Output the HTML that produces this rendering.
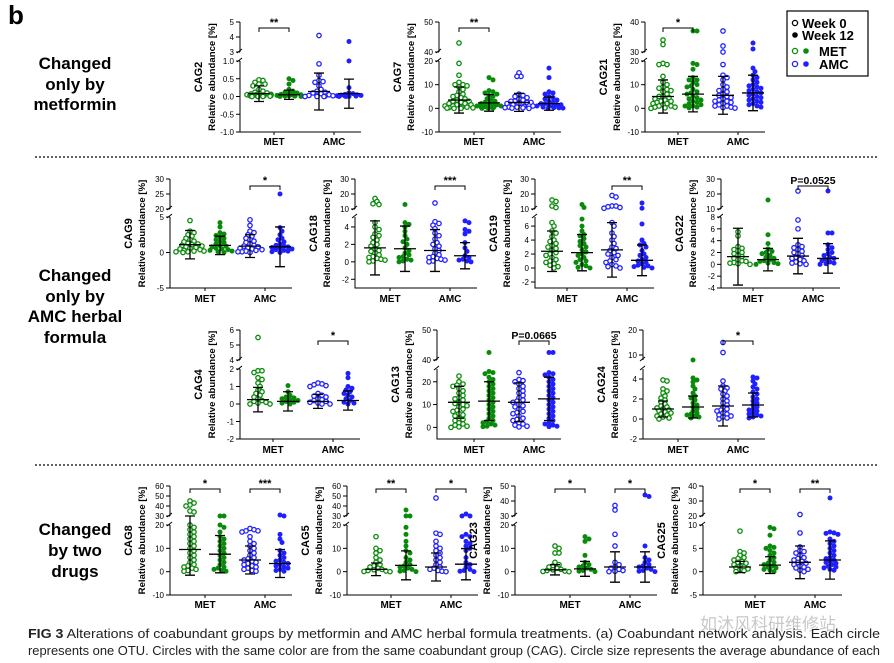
<!DOCTYPE html>
<html><head><meta charset="utf-8">
<style>
html,body{margin:0;padding:0;background:#fff;}
svg{display:block;font-family:"Liberation Sans","Noto Sans CJK SC",sans-serif;}
</style></head>
<body>
<svg id="fig" width="894" height="663" viewBox="0 0 894 663" xmlns="http://www.w3.org/2000/svg">
<rect width="894" height="663" fill="#fff"/>
<text x="8" y="24" font-size="26" font-weight="bold">b</text>
<g font-size="17" font-weight="bold" text-anchor="middle">
<text x="75" y="69">Changed</text><text x="75" y="90">only by</text><text x="75" y="110">metformin</text></g>
<g font-size="17" font-weight="bold" text-anchor="middle">
<text x="75" y="281">Changed</text><text x="75" y="302">only by</text><text x="75" y="322">AMC herbal</text><text x="75" y="343">formula</text></g>
<g font-size="17" font-weight="bold" text-anchor="middle">
<text x="75" y="535">Changed</text><text x="75" y="556">by two</text><text x="75" y="577">drugs</text></g>
<line x1="35" y1="157" x2="878" y2="157" stroke="#000" stroke-width="1.3" stroke-dasharray="2,2"/>
<line x1="35" y1="465" x2="878" y2="465" stroke="#000" stroke-width="1.3" stroke-dasharray="2,2"/>
<g>
<rect x="787" y="11" width="81" height="65" fill="#fff" stroke="#000" stroke-width="1.2"/>
<circle cx="795" cy="23" r="2.6" fill="#fff" stroke="#000" stroke-width="1.3"/>
<text x="802" y="28" font-size="13" font-weight="bold">Week 0</text>
<circle cx="795" cy="35" r="2.8" fill="#000"/>
<text x="802" y="40" font-size="13" font-weight="bold">Week 12</text>
<circle cx="795" cy="51" r="2.6" fill="#fff" stroke="#0a8a0a" stroke-width="1.3"/>
<circle cx="806" cy="51" r="2.8" fill="#0a8a0a"/>
<text x="819" y="56" font-size="13" font-weight="bold">MET</text>
<circle cx="795" cy="64" r="2.6" fill="#fff" stroke="#2020ff" stroke-width="1.3"/>
<circle cx="806" cy="64" r="2.8" fill="#2020ff"/>
<text x="819" y="69" font-size="13" font-weight="bold">AMC</text>
</g>
<text x="700" y="630" font-size="17" fill="#c8c8c8">如沐风科研维修站</text>
<g font-size="12.5" fill="#222">
<text x="28" y="638" textLength="852" lengthAdjust="spacingAndGlyphs"><tspan font-weight="bold">FIG 3</tspan>  Alterations of coabundant groups by metformin and AMC herbal formula treatments. (a) Coabundant network analysis. Each circle</text>
<text x="28" y="655" textLength="852" lengthAdjust="spacingAndGlyphs">represents one OTU. Circles with the same color are from the same coabundant group (CAG). Circle size represents the average abundance of each</text>
</g>
<g id="plots"></g>
</svg>
<script>
// ---- data (groups: MET wk0, MET wk12, AMC wk0, AMC wk12) ----
const groupNames = ['met-week0','met-week12','amc-week0','amc-week12'];
const cag2Means=[0.08,0.05,0.14,0.08]; const cag2Sds=[0.22,0.13,0.52,0.41];
const cag2G1=[0.47,0.45,0.4,0.35,0.35,0.3,0.2,0.15,0.12,0.1,0.08,0.07,0.06,0.05,0.05,0.04,0.03,0.03,0.02,0.02,0.01,0.01,0,0,0];
const cag2G2=[0.5,0.45,0.35,0.2,0.15,0.12,0.1,0.08,0.06,0.05,0.04,0.03,0.02,0.02,0.01,0.01,0,0];
const cag2G3=[4.1,0.92,0.6,0.45,0.42,0.4,0.3,0.2,0.15,0.12,0.1,0.08,0.05,0.04,0.03,0.02,0.01,0,0,0];
const cag2G4=[3.7,1.0,0.25,0.1,0.08,0.06,0.05,0.04,0.03,0.02,0.01,0.01,0,0,0];
const cag7Means=[3.5,2.3,2.5,2.0]; const cag7Sds=[5.5,3.5,3.8,2.8];
const cag7G1=[43,19,14,11,10,10,9.5,9,8,7,6,5.5,5,4.5,4,3.5,3,3,2.5,2,2,1.5,1.5,1,1,0.8,0.5,0.5,0.3,0.2,0.1,0,0];
const cag7G2=[13,12,7.5,7,6.5,6,5.5,5,4,3.5,3,2.5,2,2,1.5,1.5,1,1,0.8,0.5,0.5,0.3,0.2,0.1,0];
const cag7G3=[15,13.5,13.5,6,5.5,5,4.5,4,3.5,3,3,2.5,2.5,2,2,1.5,1.5,1,1,0.8,0.5,0.5,0.3,0.2,0.1,0];
const cag7G4=[17,13,7,6.5,6,5,4.5,4,3.5,3,2.5,2,2,1.5,1.5,1,1,0.8,0.5,0.3,0.2,0.1,0];
const cag21Means=[5,6,5.5,6.5]; const cag21Sds=[7,7.5,8,7.5];
const cag21G1=[34,32.5,19,18.5,18.5,13.5,11,10,9,8.5,8,7.5,7,6,5,5,4.5,4,3.5,3,3,2.5,2,2,1.5,1,1,0.5,0.5,0.2,0];
const cag21G2=[37,37,19,18.5,16.5,13,12,12,11,10,9.5,9,8,7,6.5,6,5,4.5,4,3.5,3,2.5,2,1.5,1,1,0.5,0.2];
const cag21G3=[37,32,30,18.5,14,13,12,10,9,8,7.5,7,6,5.5,5,4.5,4,3.5,3,3,2.5,2,1.5,1,1,0.5,0.3,0.1];
const cag21G4=[33,31,17,15.5,14,13,12,11,10,9.5,9,8.5,8,7.5,7,6.5,6,5.5,5,4.5,4,3.5,3,2.5,2,1.5,1,0.5];
const cag9Means=[1.1,1.0,0.9,0.8]; const cag9Sds=[2.0,1.3,1.6,2.8];
const cag9G1=[4.5,3,2.8,2.5,2.3,2,1.8,1.6,1.5,1.3,1.2,1.1,1,0.9,0.8,0.7,0.6,0.5,0.4,0.3,0.2,0.2,0.1,0.1,0];
const cag9G2=[4.2,3.6,2.8,2.6,2.4,2.2,2,1.8,1.6,1.4,1.2,1,0.9,0.8,0.6,0.5,0.4,0.3,0.2,0.1,0];
const cag9G3=[4.6,3.8,3,2.8,2.5,2.3,2,1.8,1.6,1.4,1.2,1,0.9,0.8,0.7,0.6,0.5,0.4,0.3,0.2,0.1,0.1,0];
const cag9G4=[25,3.5,3,2.5,2,1.8,1.5,1.2,1,0.9,0.8,0.7,0.6,0.5,0.4,0.3,0.2,0.1,0];
const cag18Means=[1.6,1.5,1.3,0.7]; const cag18Sds=[3.1,2.6,2.4,1.5];
const cag18G1=[17,15,13,13.5,4.5,4,3.7,3.2,3,2.8,2.5,2.2,2,1.8,1.5,1.3,1.2,1,0.8,0.6,0.5,0.4,0.3,0.2,0.1,0];
const cag18G2=[13,4.5,4.3,4,3.5,3,2.6,2.3,2,1.6,1.3,1,0.8,0.6,0.5,0.3,0.2,0.1,0];
const cag18G3=[14,4.6,4.4,4.2,3.8,3.3,3,2.6,2.2,2,1.8,1.5,1.3,1,0.8,0.6,0.5,0.4,0.3,0.2,0.1,0];
const cag18G4=[4.7,4.5,3.7,3.5,3.2,2.2,1.6,1.2,0.7,0.5,0.3,0.2,0.1,0];
const cag19Means=[2.4,2.2,2.6,1.1]; const cag19Sds=[2.9,2.6,3.9,2.2];
const cag19G1=[16,15,12,11,6.5,6,5.3,5,4.5,4,3.8,3.5,3.2,3,2.8,2.5,2.2,2,1.8,1.5,1.2,1,0.8,0.6,0.4,0.2,0];
const cag19G2=[13,11,7,6,5.3,4.8,4.6,4.2,3.8,3.5,3.2,3,2.6,2.3,2,1.8,1.5,1.2,1,0.8,0.5,0.3,0.1,0];
const cag19G3=[19,18,12,12,11.5,11,10.5,6.5,6,5,4.5,4,3.5,3,2.8,2.5,2.2,2,1.8,1.5,1.2,1,0.8,0.5,0.3,0.2,0];
const cag19G4=[14,10.5,6.3,4,3.5,3.3,3,2.5,2,1.8,1.5,1.2,1,0.8,0.6,0.4,0.3,0.2,0.1,0];
const cag22Means=[1.3,0.8,1.4,1.0]; const cag22Sds=[4.8,1.9,3.0,2.5];
const cag22G1=[5.5,4.8,3,2.7,2.5,2.3,2,1.8,1.5,1.3,1,0.8,0.6,0.5,0.3,0.2,0.1,0];
const cag22G2=[16,5,3.5,2.6,2.2,2,1.8,1.5,1.2,1,0.8,0.6,0.5,0.3,0.2,0.1,0];
const cag22G3=[22,7.5,6,3.3,3,2.8,2.5,2.2,2,1.8,1.5,1.2,1,0.8,0.6,0.4,0.2,0.1,0];
const cag22G4=[22,5.3,5.3,3.3,2.8,2.5,2,1.8,1.5,1.2,1,0.8,0.6,0.4,0.2,0.1,0];
const cag4Means=[0.25,0.15,0.15,0.2]; const cag4Sds=[0.7,0.55,0.4,0.55];
const cag4G1=[5.5,1.9,1.9,1.8,1.5,1.4,1.2,1,0.8,0.7,0.6,0.5,0.4,0.3,0.2,0.15,0.1,0.05,0,0];
const cag4G2=[1.05,0.7,0.5,0.4,0.35,0.3,0.25,0.2,0.15,0.1,0.05,0];
const cag4G3=[1.2,1.15,1.1,1.05,1,0.6,0.5,0.45,0.4,0.3,0.25,0.2,0.15,0.1,0.05,0,0];
const cag4G4=[1.75,1.5,1,0.9,0.8,0.7,0.6,0.5,0.4,0.3,0.2,0.1,0.05,0];
const cag13Means=[11,11.5,11,12.5]; const cag13Sds=[7,8.5,8.5,9.5];
const cag13G1=[22.5,20,19,18.5,18,17,16,15,14,13,12.5,12,11,10.5,10,9.5,9,8,7.5,7,6,5.5,5,4,3.5,3,2,1.5,1,0.5,0.2,0];
const cag13G2=[42.5,24.5,24,23.5,22,21,20,19,18,17,16,15,14,13,12,11,10,9,8,7,6,5,4,3,2.5,2,1.5,1,0.5,0.3];
const cag13G3=[24,21,20.5,20,19,18,17,16,15,14,13,12,11.5,11,10,9.5,9,8,7,6.5,6,5,4,3.5,3,2,1.5,1,0.5,0.2];
const cag13G4=[42.5,42.5,24,23.5,23,22,21,20,19,18,17,16,15,14,13,12,11,10,9,8,7,6,5,4,3,2,1.5,1,0.5,0.3];
const cag24Means=[1.0,1.2,1.3,1.4]; const cag24Sds=[0.8,1.1,2.0,1.2];
const cag24G1=[3.9,3.8,3,2.8,2.6,2.3,2.1,1.9,1.7,1.5,1.3,1.2,1.1,1,0.9,0.8,0.7,0.6,0.5,0.4,0.3,0.2,0.1,0];
const cag24G2=[7.5,4.1,3.9,3.7,3.3,3,2.6,2.3,2.1,1.9,1.6,1.4,1.2,1,0.8,0.6,0.5,0.4,0.3,0.2,0.1];
const cag24G3=[15,11,3.8,3.3,3.1,3,2.8,2.5,2.3,2,1.8,1.6,1.4,1.2,1,0.9,0.8,0.6,0.5,0.4,0.3,0.2,0.1,0];
const cag24G4=[4.2,4.1,3.8,3.5,3.2,3,2.7,2.5,2.2,2,1.8,1.6,1.4,1.2,1,0.9,0.8,0.6,0.5,0.4,0.3,0.2,0.1];
const cag8Means=[9.5,7.5,5,3.5]; const cag8Sds=[11,8,6,6];
const cag8G1=[45,43,41,40,35,34,20,19,18,17,16,15,14,13,12,11,10,9,8,7,6,5,4,3,2.5,2,1.5,1,0.5,0.2];
const cag8G2=[21,20.5,20,19,17,15,14,13,12,11,10,9,8,7,6,5,4,3,2,1.5,1,0.5,0.2];
const cag8G3=[18.5,18,17.5,17.5,17,15,13,12,11,10,9,8,7,6,5.5,5,4.5,4,3.5,3,2.5,2,1.5,1,0.5,0.2];
const cag8G4=[31,23,16,14,12.5,9,8,7,6,5,4.5,4,3.5,3,2.5,2,1.5,1,0.5,0.2];
const cag5Means=[1,2.7,2,3.2]; const cag5Sds=[2.7,6.2,6,6.7];
const cag5G1=[15,10,9,8,6,5,4,3,2.5,2,1.5,1,0.8,0.5,0.3,0.1,0];
const cag5G2=[36,22,22,19,16,13,11,9,8,6,5,4,3,2.5,2,1.5,1,0.5,0.2,0];
const cag5G3=[48,16.5,16,13,11,10,9,8,7,6,5,4,3,2,1.5,1,0.5,0.2,0];
const cag5G4=[32,23,22,16,15,15,13,12,11,10,9,6,4,3,2,1,0.5,0.2,0];
const cag23Means=[0.8,1.2,2,2]; const cag23Sds=[2.2,3.2,6.5,6.5];
const cag23G1=[11,10,8,8,4,3,2.5,2,1.5,1,0.8,0.5,0.3,0.1,0];
const cag23G2=[15,14,13,7,4,3,2.5,2,1.5,1,0.5,0.2,0];
const cag23G3=[37,34,16,11,4,3,2,1.5,1,0.5,0.2,0];
const cag23G4=[44,43,11,6,5,4,3,2.5,2,1.5,1,0.5,0.2,0];
const cag25Means=[1,1.4,2,2.5]; const cag25Sds=[1.2,1.8,3.5,4.1];
const cag25G1=[8.7,4.3,4,3.5,3,2.8,2.5,2.2,2,1.8,1.5,1.2,1,0.8,0.6,0.4,0.2,0];
const cag25G2=[9.5,9.2,7.8,5.5,5.2,5,4.5,4,3.5,3,2.5,2,1.8,1.5,1.2,1,0.8,0.5,0.3,0];
const cag25G3=[21,8.3,5.3,4.5,4.3,4,3.5,3,2.8,2.5,2.2,2,1.8,1.5,1.2,1,0.8,0.5,0.3,0];
const cag25G4=[32,8.5,8.3,8.2,8,7,6.5,6,5.5,5,4.5,4,3.5,3,2.8,2.5,2.2,2,1.8,1.5,1.2,1,0.8,0.5,0.3];

// ---- layout ----
const rows=[{top:22,ub:52,lt:61,bot:132,lab:145,br:28},{top:179,ub:209,lt:217,bot:288,lab:302,br:186},
            {top:330,ub:360,lt:369,bot:439,lab:453,br:341},{top:486,ub:516,lt:525,bot:595,lab:608,br:489}];
const panels=[
 {n:'CAG2',row:0,ax:240,off:19,low:[-1,1],up:[3,5],lt:[-1,-0.5,0,0.5,1],ut:[3,4,5],fmt:1,m:cag2Means,s:cag2Sds,v:[cag2G1,cag2G2,cag2G3,cag2G4],b:[[0,'**']]},
 {n:'CAG7',row:0,ax:439,off:20,low:[-10,20],up:[40,50],lt:[-10,0,10,20],ut:[40,50],m:cag7Means,s:cag7Sds,v:[cag7G1,cag7G2,cag7G3,cag7G4],b:[[0,'**']]},
 {n:'CAG21',row:0,ax:645,off:18,low:[-10,20],up:[30,40],lt:[-10,0,10,20],ut:[30,40],m:cag21Means,s:cag21Sds,v:[cag21G1,cag21G2,cag21G3,cag21G4],b:[[0,'*']]},
 {n:'CAG9',row:1,ax:170,off:20,low:[-5,5],up:[20,30],lt:[-5,0,5],ut:[20,25,30],m:cag9Means,s:cag9Sds,v:[cag9G1,cag9G2,cag9G3,cag9G4],b:[[2,'*']]},
 {n:'CAG18',row:1,ax:355,off:20,low:[-3,5.14],up:[10,30],lt:[-2,0,2,4],ut:[10,20,30],m:cag18Means,s:cag18Sds,v:[cag18G1,cag18G2,cag18G3,cag18G4],b:[[2,'***']]},
 {n:'CAG19',row:1,ax:535,off:17,low:[-2.86,7.3],up:[10,30],lt:[-2,0,2,4,6],ut:[10,20,30],m:cag19Means,s:cag19Sds,v:[cag19G1,cag19G2,cag19G3,cag19G4],b:[[2,'**']]},
 {n:'CAG22',row:1,ax:721,off:17,low:[-4,8],up:[10,30],lt:[-4,-2,0,2,4,6,8],ut:[10,20,30],m:cag22Means,s:cag22Sds,v:[cag22G1,cag22G2,cag22G3,cag22G4],b:[[2,'P=0.0525']]},
 {n:'CAG4',row:2,ax:240,off:18,low:[-2,2],up:[4,6],lt:[-2,-1,0,1,2],ut:[4,5,6],m:cag4Means,s:cag4Sds,v:[cag4G1,cag4G2,cag4G3,cag4G4],b:[[2,'*']]},
 {n:'CAG13',row:2,ax:437,off:22,low:[-5.1,25.6],up:[40,50],lt:[0,10,20],ut:[40,50],m:cag13Means,s:cag13Sds,v:[cag13G1,cag13G2,cag13G3,cag13G4],b:[[2,'P=0.0665']]},
 {n:'CAG24',row:2,ax:643,off:20,low:[-2,5],up:[8,20],lt:[-2,0,2,4],ut:[10,20],m:cag24Means,s:cag24Sds,v:[cag24G1,cag24G2,cag24G3,cag24G4],b:[[2,'*']]},
 {n:'CAG8',row:3,ax:170,off:20,low:[-10,20],up:[30,60],lt:[-10,0,10,20],ut:[30,40,50,60],m:cag8Means,s:cag8Sds,v:[cag8G1,cag8G2,cag8G3,cag8G4],b:[[0,'*'],[2,'***']]},
 {n:'CAG5',row:3,ax:347,off:29,low:[-10,20],up:[30,60],lt:[-10,0,10,20],ut:[30,40,50,60],m:cag5Means,s:cag5Sds,v:[cag5G1,cag5G2,cag5G3,cag5G4],b:[[0,'**'],[2,'*']]},
 {n:'CAG23',row:3,ax:515,off:40,low:[-10,20],up:[30,50],lt:[-10,0,10,20],ut:[30,40,50],m:cag23Means,s:cag23Sds,v:[cag23G1,cag23G2,cag23G3,cag23G4],b:[[0,'*'],[2,'*']]},
 {n:'CAG25',row:3,ax:703,off:37,low:[-5,10],up:[20,40],lt:[-5,0,5,10],ut:[20,30,40],m:cag25Means,s:cag25Sds,v:[cag25G1,cag25G2,cag25G3,cag25G4],b:[[0,'*'],[2,'**']]}
];
const colors=['#0a8a0a','#0a8a0a','#2020ff','#2020ff'];
const NS='http://www.w3.org/2000/svg';
const root=document.getElementById('plots');
function mk(parent,tag,attrs,txt){const e=document.createElementNS(NS,tag);for(const k in attrs)e.setAttribute(k,attrs[k]);if(txt!==undefined)e.textContent=txt;parent.appendChild(e);return e;}

panels.forEach(p=>{
  const R=rows[p.row];
  const g=mk(root,'g',{});
  
  
  const yS=v=>{
    if(v<=p.low[1]) return R.bot-(v-p.low[0])/(p.low[1]-p.low[0])*(R.bot-R.lt);
    if(v<p.up[0]) v=p.up[0];
    return R.ub-(v-p.up[0])/(p.up[1]-p.up[0])*(R.ub-R.top);
  };
  const xS=i=>p.ax+p.off+i*30;
  const ax=p.ax;
  const yax=mk(g,'path',{d:`M${ax},${R.top}V${R.ub}M${ax},${R.lt}V${R.bot}H${xS(3)+12}`,stroke:'#000','stroke-width':1,fill:'none'});
  
  
  mk(g,'path',{d:`M${ax-3},${R.ub+1}L${ax+2},${R.ub-3}M${ax-3},${R.lt+1}L${ax+2},${R.lt-3}`,stroke:'#000','stroke-width':1});
  p.lt.forEach(t=>{const y=yS(t);mk(g,'line',{x1:ax-4,x2:ax,y1:y,y2:y,stroke:'#000'});
    const tl=mk(g,'text',{x:ax-6,y:y+3,'font-size':8,'text-anchor':'end'},p.fmt?t.toFixed(1):String(t));
    
    });
  p.ut.forEach(t=>{const y=yS(t);mk(g,'line',{x1:ax-4,x2:ax,y1:y,y2:y,stroke:'#000'});
    const tl=mk(g,'text',{x:ax-6,y:y+3,'font-size':8,'text-anchor':'end'},String(t));
    
    });
  const mid=(R.top+R.bot)/2;
  const t1=mk(g,'text',{x:0,y:0,'font-size':11,'font-weight':'bold','text-anchor':'middle',transform:`translate(${ax-38},${mid}) rotate(-90)`},p.n);
  
  
  const t2=mk(g,'text',{x:0,y:0,'font-size':9.6,'font-weight':'bold','text-anchor':'middle',transform:`translate(${ax-25},${mid}) rotate(-90)`},'Relative abundance [%]');
  
  
  ['MET','AMC'].forEach((lab,k)=>{const cx=(xS(2*k)+xS(2*k+1))/2;
    mk(g,'line',{x1:cx,x2:cx,y1:R.bot,y2:R.bot+3,stroke:'#000'});
    const xl=mk(g,'text',{x:cx,y:R.lab,'font-size':10,'font-weight':'bold','text-anchor':'middle'},lab);
    
    });
  p.v.forEach((vals,i)=>{
    const gg=mk(g,'g',{});
    
    
    const cx=xS(i); const placed=[]; const minD=3.6;
    const sorted=vals.slice().sort((a,b)=>b-a);
    sorted.forEach(v=>{
      const y=yS(v); let ox=null;
      for(let k=0;k<15;k++){const c=k===0?0:(k%2?1:-1)*Math.ceil(k/2)*2;
        if(!placed.some(q=>Math.hypot(q[0]-c,q[1]-y)<minD)){ox=c;break;}}
      if(ox===null){ox=(placed.length%2?1:-1)*((placed.length*3)%13);}
      placed.push([ox,y]);
      const open=i%2===0;
      const c=mk(gg,'circle',{cx:cx+ox,cy:y,r:open?2.2:2.5,fill:open?'#fff':colors[i],stroke:colors[i],'stroke-width':open?1.3:0});
      
      
    });
    const m=p.m[i], s=p.s[i];
    const eb=mk(g,'path',{d:`M${cx},${yS(m-s)}V${yS(m+s)}M${cx-5},${yS(m-s)}h10M${cx-5},${yS(m+s)}h10M${cx-11},${yS(m)}h22`,stroke:'#000','stroke-width':1.3,fill:'none'});
    
    
  });
  p.b.forEach(bk=>{
    const x1=xS(bk[0]), x2=xS(bk[0]+1);
    const br=mk(g,'path',{d:`M${x1},${R.br+4}V${R.br}H${x2}V${R.br+4}`,stroke:'#000','stroke-width':1,fill:'none'});
    
    
    const st=mk(g,'text',{x:(x1+x2)/2,y:R.br-2,'font-size':bk[1].length>3?10.5:11,'font-weight':'bold','text-anchor':'middle'},bk[1]);
    
    
  });
});
</script>
</body></html>
